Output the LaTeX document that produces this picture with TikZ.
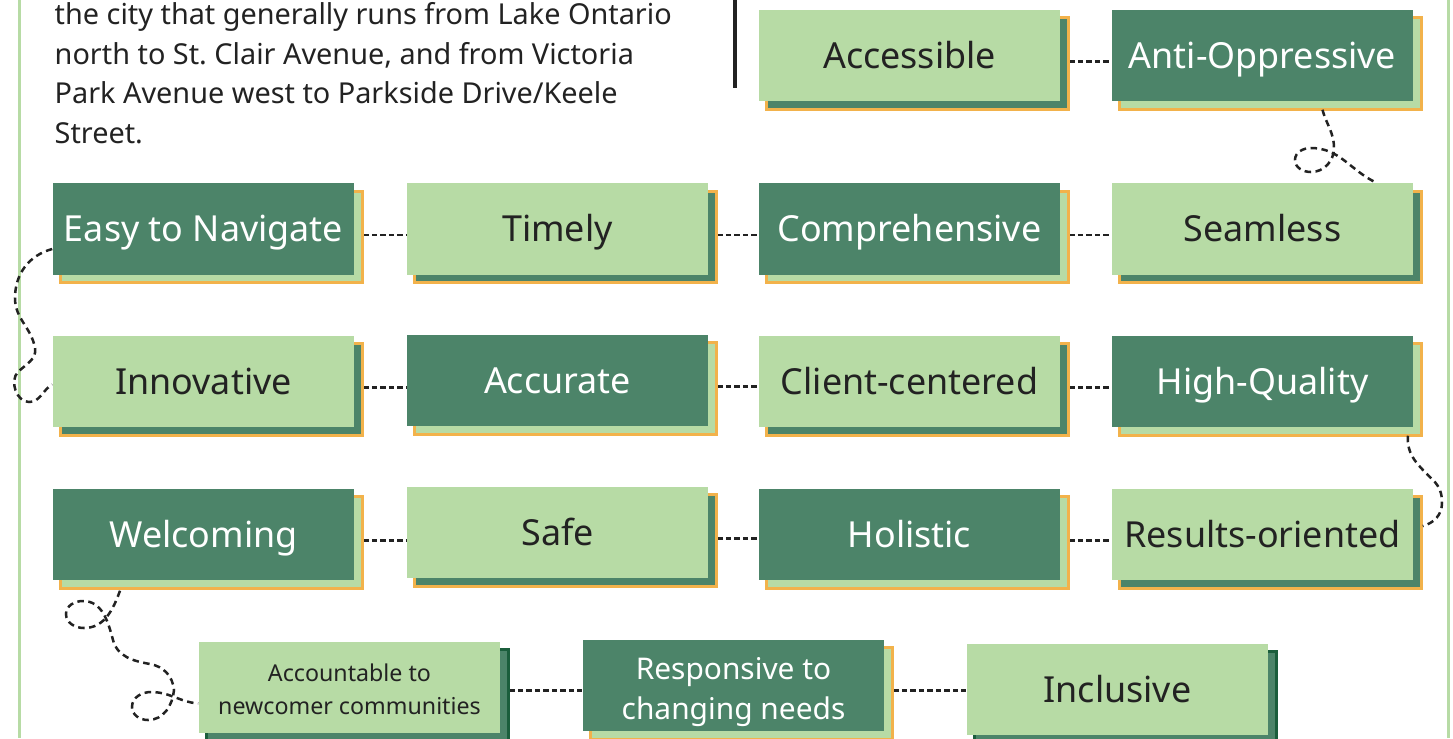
\documentclass[tikz,border=0pt]{standalone}
\usepackage{fontspec}
\setmainfont{Noto Sans}
\usetikzlibrary{shadows,backgrounds}

\definecolor{leaf}{HTML}{B7DBA5}
\definecolor{pine}{HTML}{4C8469}
\definecolor{amber}{HTML}{F2B24B}
\definecolor{forest}{HTML}{1B5E3C}
\definecolor{ink}{HTML}{222222}

\begin{document}
\begin{tikzpicture}
  [x=0.01cm, y=-0.01cm,
   box/.style={rectangle, minimum width=3.01cm, minimum height=0.91cm, inner sep=0pt,
     align=center, font=\fontsize{10.2}{12}\selectfont,
     text height=7.3pt, text depth=0pt},
   lightbox/.style={box, fill=leaf, text=ink,
     copy shadow={fill=pine, draw=#1, line width=0.03cm,
       shadow xshift=0.08cm, shadow yshift=-0.08cm}},
   lightbox/.default=amber,
   darkbox/.style={box, fill=pine, text=white,
     copy shadow={fill=leaf, draw=amber, line width=0.03cm,
       shadow xshift=0.08cm, shadow yshift=-0.08cm}},
   link/.style={ink, line width=0.022cm, dash pattern=on 0.055cm off 0.03cm},
   curl/.style={ink, line width=0.025cm, dash pattern=on 0.065cm off 0.045cm}]

  \useasboundingbox (0,0) rectangle (1453,738);

  % page frame and divider
  \draw[leaf, line width=0.035cm] (19.5,0) -- (19.5,738);
  \draw[leaf, line width=0.03cm] (1448.5,0) -- (1448.5,738);
  \draw[ink, line width=0.04cm] (735,0) -- (735,88);

  % end of the area description
  \node[anchor=base west, inner sep=0pt, align=left, text=ink,
        font=\fontsize{8.2}{11.2}\selectfont] (area) at (54,143)
    {the city that generally runs from Lake Ontario\\
     north to St.\ Clair Avenue, and from Victoria\\
     Park Avenue west to Parkside Drive/Keele\\
     Street.};

  % row 1
  \node[lightbox] (acc) at (909.5,55.5) {Accessible};
  \node[darkbox] (anti) at (1262.5,55.5) {Anti-Oppressive};
  % row 2
  \node[darkbox] (easy) at (203.5,229) {Easy to Navigate};
  \node[lightbox] (timely) at (557.5,229) {Timely};
  \node[darkbox] (compr) at (909.5,229) {Comprehensive};
  \node[lightbox] (seam) at (1262.5,229) {Seamless};
  % row 3
  \node[lightbox] (innov) at (203.5,381.5) {Innovative};
  \node[darkbox] (accur) at (557.5,380.5) {Accurate};
  \node[lightbox] (client) at (909.5,381.5) {Client-centered};
  \node[darkbox] (hq) at (1262.5,381.5) {High-Quality};
  % row 4
  \node[darkbox] (welc) at (203.5,534.5) {Welcoming};
  \node[lightbox] (safe) at (557.5,532.5) {Safe};
  \node[darkbox] (holi) at (909.5,534.5) {Holistic};
  \node[lightbox] (res) at (1262.5,534.5) {Results-oriented};
  % row 5
  \node[lightbox=forest, font=\fontsize{6.6}{9.4}\selectfont,
        text height=15.6pt] (acct) at (349.5,687.5)
    {Accountable to\\newcomer communities};
  \node[darkbox, font=\fontsize{8.5}{11.4}\selectfont,
        text height=19.5pt] (resp) at (733.5,685.5)
    {Responsive to\\changing needs};
  \node[lightbox=forest] (incl) at (1117.5,689.5) {Inclusive};

  % straight links along each row
  \begin{scope}[on background layer]
    \draw[link] ([yshift=-0.06cm]acc.east) -- ([yshift=-0.06cm]acc.east -| anti.west);
    \draw[link] ([yshift=-0.06cm]easy.east) -- ([yshift=-0.06cm]easy.east -| timely.west);
    \draw[link] ([yshift=-0.06cm]timely.east) -- ([yshift=-0.06cm]timely.east -| compr.west);
    \draw[link] ([yshift=-0.06cm]compr.east) -- ([yshift=-0.06cm]compr.east -| seam.west);
    \draw[link] ([yshift=-0.06cm]innov.east) -- ([yshift=-0.06cm]innov.east -| accur.west);
    \draw[link] ([yshift=-0.06cm]accur.east) -- ([yshift=-0.06cm]accur.east -| client.west);
    \draw[link] ([yshift=-0.06cm]client.east) -- ([yshift=-0.06cm]client.east -| hq.west);
    \draw[link] ([yshift=-0.06cm]welc.east) -- ([yshift=-0.06cm]welc.east -| safe.west);
    \draw[link] ([yshift=-0.06cm]safe.east) -- ([yshift=-0.06cm]safe.east -| holi.west);
    \draw[link] ([yshift=-0.06cm]holi.east) -- ([yshift=-0.06cm]holi.east -| res.west);
    \draw[link] ([yshift=-0.03cm]acct.east) -- ([yshift=-0.03cm]acct.east -| resp.west);
    \draw[link] ([yshift=-0.05cm]resp.east) -- ([yshift=-0.05cm]resp.east -| incl.west);
  \end{scope}

  % curly links between rows
  \draw[curl] ([shift={(60,8)}]anti.south) to[out=-75,in=90] (1334,148)
    to[out=-90,in=0] (1311,172) to[out=180,in=-90] (1295,160)
    to[out=90,in=180] (1311,148) to[out=0,in=155] ([shift={(114,0)}]seam.north);
  \draw[curl] ([shift={(0,20)}]easy.west) to[out=195,in=90] (15,298)
    to[out=-90,in=100] (35,348) to[out=-80,in=45] (18,372)
    to[out=225,in=180] (29,402) to[out=0,in=210] ([shift={(0,3)}]innov.west);
  \draw[curl] ([shift={(145.5,8)}]hq.south) to[out=-95,in=135] (1433,480)
    to[out=-45,in=90] (1442,503) to[out=-90,in=15] ([shift={(9,-8.5)}]res.east);
  \draw[curl] ([shift={(-83.5,10)}]welc.south) to[out=-110,in=0] (84,628)
    to[out=180,in=-90] (66,614) to[out=90,in=180] (83,601)
    to[out=0,in=105] (113,640) to[out=-75,in=170] (150,664)
    to[out=-10,in=95] (174,690) to[out=-95,in=0] (148,720)
    to[out=180,in=-90] (132,707) to[out=90,in=180] (151,692)
    to[out=0,in=175] ([shift={(0,16)}]acct.west);
\end{tikzpicture}
\end{document}
